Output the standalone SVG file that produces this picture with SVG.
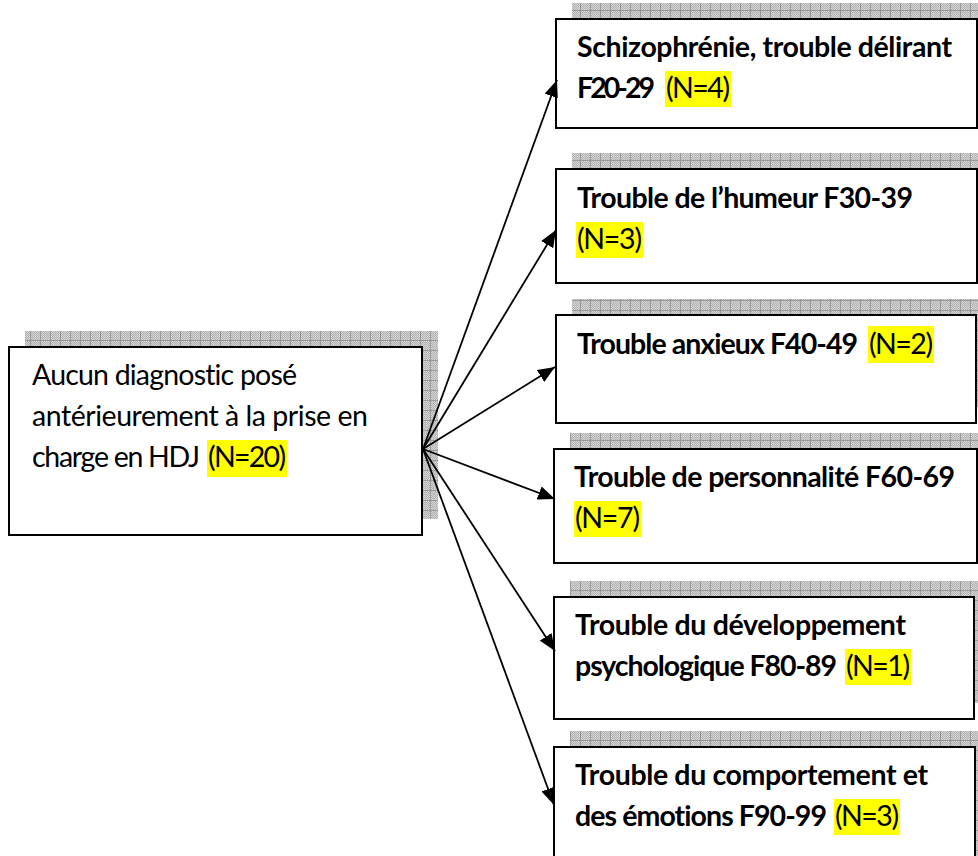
<svg xmlns="http://www.w3.org/2000/svg" width="978" height="856" viewBox="0 0 978 856">
<style>
.box{fill:#fff;stroke:#000;stroke-width:2}
.sh{fill:url(#grid)}
.t{font-family:Lato,"Liberation Sans",sans-serif;font-size:28.5px;fill:#000;font-variant-ligatures:none}
.b{font-weight:700}
.hl{fill:#ffff00}
.c{stroke:#000;stroke-width:1.8;fill:none;marker-end:url(#ah)}
</style>
<defs>
<pattern id="dither" width="2" height="2" patternUnits="userSpaceOnUse">
<rect width="2" height="2" fill="#d2d2d2"/>
<rect width="1" height="1" fill="#b4b4b4"/>
<rect x="1" y="1" width="1" height="1" fill="#b4b4b4"/>
</pattern>
<pattern id="grid" width="10" height="10" patternUnits="userSpaceOnUse">
<rect width="10" height="10" fill="url(#dither)"/>
<path d="M0 0.5H10M0.5 0V10" stroke="#9a9a9a" stroke-width="1"/>
</pattern>
<marker id="ah" markerUnits="userSpaceOnUse" markerWidth="17" markerHeight="14" refX="17" refY="7" orient="auto">
<path d="M0 0L17 7L0 14z" fill="#000"/>
</marker>
</defs>

<g id="source">
<rect class="sh" x="25" y="331" width="413" height="188"/>
<rect class="box" x="9" y="347" width="413" height="188"/>
<text class="t" x="32" y="385" textLength="265">Aucun diagnostic posé</text>
<text class="t" x="32" y="426" textLength="336">antérieurement à la prise en</text>
<text class="t" x="32" y="467" textLength="168">charge en HDJ</text>
<rect class="hl" x="207" y="440" width="80" height="37"/>
<text class="t" x="208" y="467" textLength="78">(N=20)</text>
</g>

<g id="n1">
<rect class="sh" x="572" y="3" width="421" height="109"/>
<rect class="box" x="556" y="19" width="421" height="109"/>
<text class="t b" x="577" y="57" textLength="375">Schizophrénie, trouble délirant</text>
<text class="t b" x="577" y="98" textLength="78">F20-29</text>
<rect class="hl" x="665" y="71" width="66" height="36"/>
<text class="t" x="666" y="98" textLength="64">(N=4)</text>
</g>

<g id="n2">
<rect class="sh" x="572" y="153" width="421" height="114"/>
<rect class="box" x="556" y="169" width="421" height="114"/>
<text class="t b" x="577" y="208" textLength="336">Trouble de l’humeur F30-39</text>
<rect class="hl" x="576" y="222" width="67" height="36"/>
<text class="t" x="577" y="249" textLength="65">(N=3)</text>
</g>

<g id="n3">
<rect class="sh" x="572" y="299" width="420" height="108"/>
<rect class="box" x="556" y="315" width="420" height="108"/>
<text class="t b" x="577" y="354" textLength="281">Trouble anxieux F40-49</text>
<rect class="hl" x="868" y="326" width="66" height="37"/>
<text class="t" x="869" y="354" textLength="64">(N=2)</text>
</g>

<g id="n4">
<rect class="sh" x="570" y="433" width="423" height="114"/>
<rect class="box" x="554" y="449" width="423" height="114"/>
<text class="t b" x="574" y="487" textLength="381">Trouble de personnalité F60-69</text>
<rect class="hl" x="574" y="501" width="67" height="36"/>
<text class="t" x="575" y="528" textLength="65">(N=7)</text>
</g>

<g id="n5">
<rect class="sh" x="570" y="581" width="420" height="122"/>
<rect class="box" x="554" y="597" width="420" height="122"/>
<text class="t b" x="575" y="635" textLength="331">Trouble du développement</text>
<text class="t b" x="575" y="676" textLength="262">psychologique F80-89</text>
<rect class="hl" x="845" y="649" width="66" height="36"/>
<text class="t" x="846" y="676" textLength="64">(N=1)</text>
</g>

<g id="n6">
<rect class="sh" x="570" y="731" width="421" height="140"/>
<rect class="box" x="554" y="747" width="421" height="140"/>
<text class="t b" x="575" y="785" textLength="353">Trouble du comportement et</text>
<text class="t b" x="575" y="826" textLength="252">des émotions F90-99</text>
<rect class="hl" x="834" y="799" width="66" height="36"/>
<text class="t" x="835" y="826" textLength="64">(N=3)</text>
</g>

<g id="connectors">
<line class="c" x1="423" y1="449" x2="557" y2="80"/>
<line class="c" x1="423" y1="449" x2="556" y2="230"/>
<line class="c" x1="423" y1="449" x2="555" y2="367"/>
<line class="c" x1="423" y1="449" x2="555" y2="499"/>
<line class="c" x1="423" y1="449" x2="555" y2="651"/>
<line class="c" x1="423" y1="449" x2="554" y2="805"/>
</g>
</svg>
